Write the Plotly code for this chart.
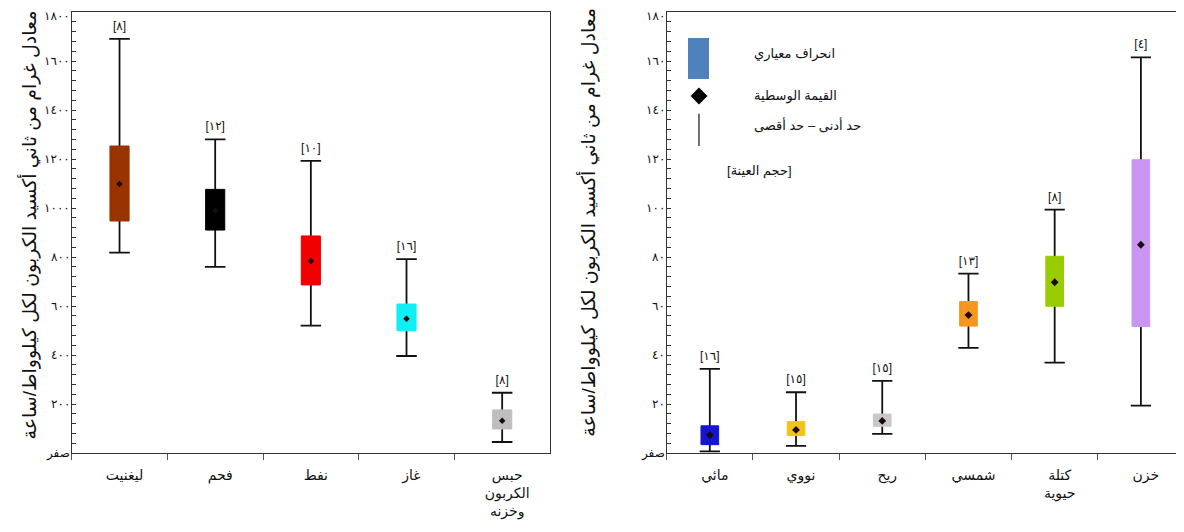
import plotly.graph_objects as go

# ---------------- data ----------------
fossil_cats = ["ليغنيت", "فحم", "نفط", "غاز", "حبس<br>الكربون<br>وخزنه"]
fossil_min = [818, 760, 520, 396, 45]
fossil_q1 = [947, 910, 686, 499, 98]
fossil_median = [1098, 990, 784, 548, 132]
fossil_q3 = [1253, 1076, 886, 608, 176]
fossil_max = [1690, 1280, 1192, 791, 246]
fossil_n = ["[٨]", "[١٢]", "[١٠]", "[١٦]", "[٨]"]
fossil_colors = ["#993300", "#000000", "#F00000", "#10EEF6", "#BEBEBE"]

low_cats = ["مائي", "نووي", "ريح", "شمسي", "كتلة<br>حيوية", "خزن"]
low_min = [0.7, 2.9, 7.8, 42.9, 36.9, 19.3]
low_q1 = [3.4, 7.1, 10.9, 51.8, 59.9, 51.6]
low_median = [7.3, 9.4, 13.1, 56.3, 69.7, 85.0]
low_q3 = [11.1, 12.8, 15.9, 61.8, 80.3, 119.7]
low_max = [34.3, 24.8, 29.4, 73.2, 99.3, 161.5]
low_n = ["[١٦]", "[١٥]", "[١٥]", "[١٣]", "[٨]", "[٤]"]
low_colors = ["#1414D2", "#F0C419", "#C8C8C8", "#F5961E", "#99CC00", "#C896F0"]

left_tickvals = [0, 200, 400, 600, 800, 1000, 1200, 1400, 1600, 1800]
left_ticktext = ["صفر", "٢٠٠", "٤٠٠", "٦٠٠", "٨٠٠", "١٠٠٠", "١٢٠٠", "١٤٠٠", "١٦٠٠", "١٨٠٠"]
right_tickvals = [0, 20, 40, 60, 80, 100, 120, 140, 160, 180]
right_ticktext = ["صفر", "٢٠", "٤٠", "٦٠", "٨٠", "١٠٠", "١٢٠", "١٤٠", "١٦٠", "١٨٠"]

y_title = "معادل غرام من ثاني أكسيد الكربون لكل كيلوواط/ساعة"
legend_texts = ["انحراف معياري", "القيمة الوسطية", "حد أدنى – حد أقصى", "[حجم العينة]"]

FONT = "Arial, DejaVu Sans, sans-serif"
# page body has an 8px margin: figure is 1176x524 placed at (8, 8)
W, H = 1176, 524
X1_DOM = [63.7 / W, 542.0 / W]
X2_DOM = [658.7 / W, 1.0]
fig = go.Figure()


def add_panel(cats, mn, q1, med, q3, mx, ns, colors, xa, ya, box_w, cap_w, msize):
    # whiskers + caps (drawn first, behind boxes)
    fig.add_trace(go.Box(
        x=cats, q1=mn, median=mn, q3=mn, lowerfence=mn, upperfence=mx,
        width=cap_w, whiskerwidth=1, boxpoints=False,
        line=dict(color="#111111", width=1.8), fillcolor="rgba(0,0,0,0)",
        xaxis=xa, yaxis=ya, hoverinfo="skip", showlegend=False))
    # boxes (one trace per category for per-box colour)
    for c, a, b, col in zip(cats, q1, q3, colors):
        fig.add_trace(go.Box(
            x=[c], q1=[a], median=[a], q3=[b], lowerfence=[a], upperfence=[b],
            width=box_w, whiskerwidth=0, boxpoints=False,
            line=dict(color=col, width=1), fillcolor=col,
            xaxis=xa, yaxis=ya, hoverinfo="skip", showlegend=False))
    # medians
    fig.add_trace(go.Scatter(
        x=cats, y=med, mode="markers",
        marker=dict(symbol="diamond", size=msize, color="#1a0a0a"),
        xaxis=xa, yaxis=ya, hoverinfo="skip", showlegend=False))
    # sample sizes
    fig.add_trace(go.Scatter(
        x=cats, y=mx, mode="markers+text", text=ns, textposition="top center",
        marker=dict(size=8, opacity=0),
        textfont=dict(family=FONT, size=12, color="#111111"),
        xaxis=xa, yaxis=ya, hoverinfo="skip", showlegend=False))


add_panel(fossil_cats, fossil_min, fossil_q1, fossil_median, fossil_q3, fossil_max,
          fossil_n, fossil_colors, "x", "y", 0.2, 0.215, 5)
add_panel(low_cats, low_min, low_q1, low_median, low_q3, low_max,
          low_n, low_colors, "x2", "y2", 0.205, 0.235, 6)

axis_line = dict(showline=True, linecolor="#333333", linewidth=1.3)
xcommon = dict(type="category", tickson="boundaries", ticks="outside", ticklen=6,
               tickcolor="#555555", showgrid=False, zeroline=False,
               tickfont=dict(family=FONT, size=14, color="#111111"),
               ticklabelstandoff=9, ticklabelshift=5, **axis_line)
ycommon = dict(ticks="inside", ticklen=4, tickcolor="#333333", showgrid=False,
               zeroline=False, showticklabels=False, tickmode="array", **axis_line)

fig.update_layout(
    width=W, height=H,
    margin=dict(l=0, r=0, t=4, b=79),
    paper_bgcolor="white", plot_bgcolor="white",
    boxmode="overlay", showlegend=False,
    font=dict(family=FONT, color="#111111"),
    xaxis=dict(domain=X1_DOM, anchor="y", mirror=True,
               range=[-0.5, 4.5], **xcommon),
    yaxis=dict(domain=[0, 1], anchor="x", mirror=True, range=[0, 1800],
               tickvals=left_tickvals,
               minor=dict(ticks="inside", ticklen=4, dtick=40, tickcolor="#333333"),
               **ycommon),
    xaxis2=dict(domain=X2_DOM, anchor="y2", mirror=True,
                range=[-0.5, 5.5], **xcommon),
    yaxis2=dict(domain=[0, 1], anchor="x2", mirror=False, range=[0, 180],
                tickvals=right_tickvals,
                minor=dict(ticks="inside", ticklen=4, dtick=4, tickcolor="#333333"),
                **ycommon),
)

# y tick labels (Arabic-Indic numerals) next to each axis
for vals, texts, yref, xdom in [(left_tickvals, left_ticktext, "y", X1_DOM),
                                (right_tickvals, right_ticktext, "y2", X2_DOM)]:
    top = max(vals)
    for v, t in zip(vals, texts):
        fig.add_annotation(text=t, xref="paper", yref=yref, x=xdom[0], y=v,
                           xanchor="right", yanchor="middle", xshift=-1,
                           yshift=-4 if v == top else 0, borderpad=0,
                           showarrow=False,
                           font=dict(family=FONT, size=12, color="#111111"))

# y-axis titles
fig.add_annotation(text=y_title, xref="paper", yref="paper", x=21.5 / W, y=0.517,
                   xanchor="center", yanchor="middle",
                   textangle=-90, showarrow=False,
                   font=dict(family=FONT, size=19, color="#111111"))
fig.add_annotation(text=y_title, xref="paper", yref="paper", x=580.0 / W, y=0.522,
                   xanchor="center", yanchor="middle",
                   textangle=-90, showarrow=False,
                   font=dict(family=FONT, size=19, color="#111111"))

# legend key inside right panel
fig.add_shape(type="rect", xref="x2 domain", yref="y2 domain",
              x0=0.0412, x1=0.0818, y0=0.848, y1=0.941,
              fillcolor="#4F81BD", line=dict(width=0))
fig.add_shape(type="path", xref="x2 domain", yref="y2 domain",
              xsizemode="pixel", ysizemode="pixel", xanchor=0.0624, yanchor=0.8095,
              path="M 0 8.5 L 8.5 0 L 0 -8.5 L -8.5 0 Z",
              fillcolor="#000000", line=dict(width=0))
fig.add_shape(type="line", xref="x2 domain", yref="y2 domain",
              x0=0.0624, x1=0.0624, y0=0.696, y1=0.769,
              line=dict(color="#111111", width=1.2))
legend_pos = [(0.165, 0.905), (0.165, 0.8095), (0.165, 0.744), (0.1127, 0.639)]
for t, (lx, ly) in zip(legend_texts, legend_pos):
    fig.add_annotation(text=t, xref="x2 domain", yref="y2 domain", x=lx, y=ly,
                       xanchor="left", yanchor="middle", showarrow=False,
                       font=dict(family=FONT, size=13, color="#111111"))

fig.write_html("out.html")
